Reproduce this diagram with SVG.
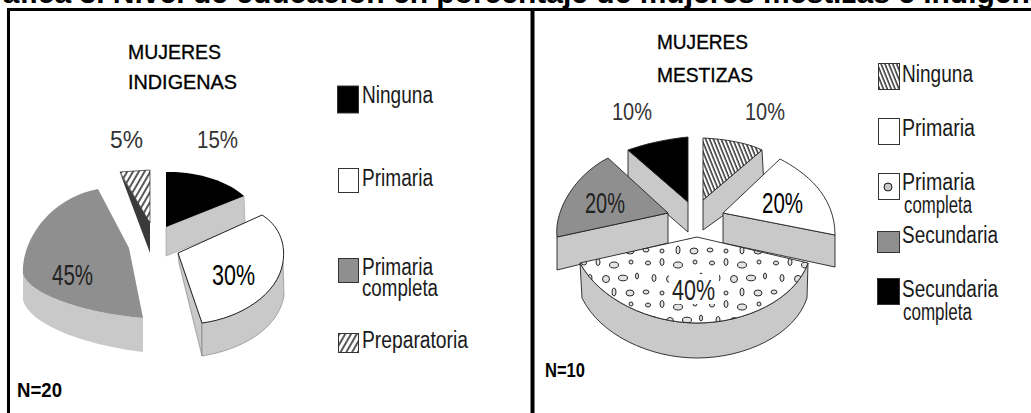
<svg xmlns="http://www.w3.org/2000/svg" width="1031" height="413" viewBox="0 0 1031 413">
<style>
.title{font-family:"Liberation Sans",Arial,sans-serif;font-weight:bold;font-size:30px;fill:#000}
.ctitle{font-family:"Liberation Sans",Arial,sans-serif;font-size:21px;fill:#000;stroke:#000;stroke-width:0.35}
.leg{font-family:"Liberation Sans",Arial,sans-serif;font-size:23px;fill:#1a1a1a}
.pct{font-family:"Liberation Sans",Arial,sans-serif;font-size:23px;fill:#333}
.pbig{font-family:"Liberation Sans",Arial,sans-serif;font-size:30px;fill:#222}
.n{font-family:"Liberation Sans",Arial,sans-serif;font-weight:bold;font-size:21px;fill:#000}
.frame{stroke:#000;fill:none}
.side{fill:#c9c9c9}
.gray{fill:#8f8f8f}
.ol{stroke:#222;stroke-width:0.9;stroke-linejoin:round}
.mk{stroke:#333;stroke-width:1}
</style>
<defs>
<pattern id="hatchL" patternUnits="userSpaceOnUse" width="5" height="10" patternTransform="rotate(30)">
<rect width="5" height="10" fill="#fff"/><line x1="1" y1="0" x2="1" y2="10" stroke="#000" stroke-width="1.3"/>
</pattern>
<pattern id="hatchR" patternUnits="userSpaceOnUse" width="3.6" height="10" patternTransform="rotate(-22)">
<rect width="3.6" height="10" fill="#fff"/><line x1="1" y1="0" x2="1" y2="10" stroke="#000" stroke-width="1.2"/>
</pattern>
<pattern id="dots" patternUnits="userSpaceOnUse" width="64" height="42" x="2" y="6">
<rect width="64" height="42" fill="#fff"/>
<g fill="#e4e4e4" stroke="#111" stroke-width="0.9">
<ellipse cx="6" cy="5" rx="2.5" ry="2"/><ellipse cx="20" cy="4" rx="2" ry="3.5"/><ellipse cx="36" cy="7" rx="4.5" ry="3"/><ellipse cx="53" cy="4" rx="2" ry="2"/>
<ellipse cx="12" cy="20" rx="2" ry="3.5"/><ellipse cx="28" cy="21" rx="3.5" ry="3.5"/><ellipse cx="45" cy="20" rx="4.5" ry="2.8"/><ellipse cx="59" cy="18" rx="1.5" ry="3"/>
<ellipse cx="4" cy="34" rx="3" ry="2"/><ellipse cx="20" cy="35" rx="2" ry="2"/><ellipse cx="36" cy="34" rx="2" ry="4"/><ellipse cx="52" cy="35" rx="4" ry="3"/>
</g>
</pattern>
</defs>

<g id="title">
<text class="title" x="515.5" y="3" text-anchor="middle">Gráfica 3. Nivel de educación en porcentaje de mujeres mestizas e indígenas</text>
</g>

<g id="frame">
<path class="frame" d="M7,9.5 H1031" stroke-width="3"/>
<path class="frame" d="M8.5,8 V413" stroke-width="3"/>
<path class="frame" d="M532.5,8 V413" stroke-width="4"/>
</g>

<g id="chart-indigenas">
<g id="ind-title">
<text class="ctitle" x="128" y="59" textLength="93" lengthAdjust="spacingAndGlyphs">MUJERES</text>
<text class="ctitle" x="128" y="89" textLength="109" lengthAdjust="spacingAndGlyphs">INDIGENAS</text>
</g>
<g id="ind-preparatoria">
<path d="M120,173 L150,223 L150,253 Z" fill="#3a3a3a"/>
<path d="M120,172 L150,170 L150,223 Z" fill="url(#hatchL)" stroke="#222" stroke-width="0.7"/>
</g>
<g id="ind-ninguna">
<path class="side" d="M166,227 L244,196 L245,224 L166,256 Z" stroke="#999" stroke-width="0.6"/>
<path d="M166,172 C196,171 228,181 244,196 L166,227 Z" fill="#000"/>
</g>
<g id="ind-primaria-completa">
<path class="side" d="M23,274 C30,295 85,313 143,318 L143,352 C85,345 30,325 23,300 Z"/>
<path class="gray" d="M98,189 L129,248 L143,318 C85,313 30,295 23,274 C21,240 50,198 98,189 Z"/>
</g>
<g id="ind-primaria">
<path class="side" d="M178,253 L202,323 L202,356 L179,263 Z" stroke="#777" stroke-width="0.6"/>
<path class="side" d="M202,323 C240,318 278,295 283,262 L284,296 C278,330 240,350 202,356 Z" stroke="#777" stroke-width="0.6"/>
<path d="M178,253 L262,215 C278,225 286,242 283,262 C278,295 240,318 202,323 Z" fill="#fff" stroke="#222" stroke-width="1"/>
</g>
<g id="ind-labels">
<text class="pct" x="110" y="148" textLength="33" lengthAdjust="spacingAndGlyphs">5%</text>
<text class="pct" x="197" y="148" textLength="41" lengthAdjust="spacingAndGlyphs">15%</text>
<text class="pbig" x="52" y="285" textLength="41" lengthAdjust="spacingAndGlyphs" fill="#333">45%</text>
<text class="pbig" x="212" y="285" textLength="43" lengthAdjust="spacingAndGlyphs" style="fill:#000">30%</text>
</g>
<g id="ind-legend">
<rect class="mk" x="337.5" y="86" width="21" height="27" fill="#000"/>
<text class="leg" x="362" y="103" textLength="71" lengthAdjust="spacingAndGlyphs">Ninguna</text>
<rect class="mk" x="338.5" y="168.5" width="20" height="24" fill="#fff"/>
<text class="leg" x="362" y="186" textLength="71" lengthAdjust="spacingAndGlyphs">Primaria</text>
<rect class="mk" x="338.5" y="258.5" width="20" height="24" fill="#8f8f8f"/>
<text class="leg" x="362" y="275" textLength="71" lengthAdjust="spacingAndGlyphs">Primaria</text>
<text class="leg" x="362" y="296" textLength="76" lengthAdjust="spacingAndGlyphs">completa</text>
<rect class="mk" x="338.5" y="333.5" width="20" height="19" fill="url(#hatchL)"/>
<text class="leg" x="362" y="348" textLength="106" lengthAdjust="spacingAndGlyphs">Preparatoria</text>
</g>
<text id="ind-n" class="n" x="17" y="397" textLength="45" lengthAdjust="spacingAndGlyphs">N=20</text>
</g>

<g id="chart-mestizas">
<g id="mes-title">
<text class="ctitle" x="657" y="49" textLength="91" lengthAdjust="spacingAndGlyphs">MUJERES</text>
<text class="ctitle" x="657" y="82" textLength="96" lengthAdjust="spacingAndGlyphs">MESTIZAS</text>
</g>
<g id="mes-secundaria-completa">
<path class="side ol" d="M628,150 L688,202 L688,232 L628,180 Z"/>
<path class="ol" d="M628,150 C648,143 668,139 688,137 L688,202 Z" fill="#000"/>
</g>
<g id="mes-ninguna">
<path class="side ol" d="M703,200 L762,150 L764,186 L703,230 Z"/>
<path class="ol" d="M703,138 C725,139 748,143 762,150 L703,200 Z" fill="url(#hatchR)"/>
</g>
<g id="mes-secundaria">
<path class="side ol" d="M557,237 L668,213 L668,243 L557,270 Z"/>
<path class="gray ol" d="M608,158 L668,213 L557,237 C554,210 575,175 608,158 Z"/>
</g>
<g id="mes-primaria">
<path class="side ol" d="M723,213 L835,235 L835,267 L723,243 Z"/>
<path class="ol" d="M723,213 L780,159 C805,172 835,195 835,235 Z" fill="#fff"/>
</g>
<g id="mes-primaria-completa">
<path class="side ol" d="M580,263 C600,300 650,323 697,323 C745,323 795,300 808,263 L807,298 C795,335 745,358 697,358 C650,358 600,335 582,298 Z"/>
<path class="ol" d="M697,237 L808,263 C795,300 745,323 697,323 C650,323 600,300 580,263 Z" fill="url(#dots)"/>
<rect x="669" y="274" width="50" height="30" fill="#fff"/>
</g>
<g id="mes-labels">
<text class="pct" x="612" y="120" textLength="40" lengthAdjust="spacingAndGlyphs">10%</text>
<text class="pct" x="745" y="120" textLength="40" lengthAdjust="spacingAndGlyphs">10%</text>
<text class="pbig" x="585" y="213" textLength="40" lengthAdjust="spacingAndGlyphs">20%</text>
<text class="pbig" x="762" y="213" textLength="41" lengthAdjust="spacingAndGlyphs" style="fill:#000">20%</text>
<text class="pbig" x="672" y="300" textLength="43" lengthAdjust="spacingAndGlyphs">40%</text>
</g>
<g id="mes-legend">
<rect class="mk" x="878.5" y="63.5" width="21" height="26" fill="url(#hatchR)"/>
<text class="leg" x="902" y="82" textLength="71" lengthAdjust="spacingAndGlyphs">Ninguna</text>
<rect class="mk" x="878.5" y="118.5" width="21" height="26" fill="#fff"/>
<text class="leg" x="902" y="136" textLength="73" lengthAdjust="spacingAndGlyphs">Primaria</text>
<rect class="mk" x="878.5" y="173.5" width="21" height="26" fill="#fff"/>
<circle cx="888" cy="187" r="4" fill="#c8c8c8" stroke="#111" stroke-width="1"/>
<text class="leg" x="902" y="190" textLength="73" lengthAdjust="spacingAndGlyphs">Primaria</text>
<text class="leg" x="904" y="213" textLength="68" lengthAdjust="spacingAndGlyphs">completa</text>
<rect class="mk" x="877.5" y="231.5" width="22" height="21" fill="#8f8f8f"/>
<text class="leg" x="902" y="243" textLength="96" lengthAdjust="spacingAndGlyphs">Secundaria</text>
<rect class="mk" x="877.5" y="278.5" width="22" height="26" fill="#000"/>
<text class="leg" x="902" y="297" textLength="96" lengthAdjust="spacingAndGlyphs">Secundaria</text>
<text class="leg" x="903" y="320" textLength="69" lengthAdjust="spacingAndGlyphs">completa</text>
</g>
<text id="mes-n" class="n" x="545" y="377" textLength="40" lengthAdjust="spacingAndGlyphs">N=10</text>
</g>
</svg>
